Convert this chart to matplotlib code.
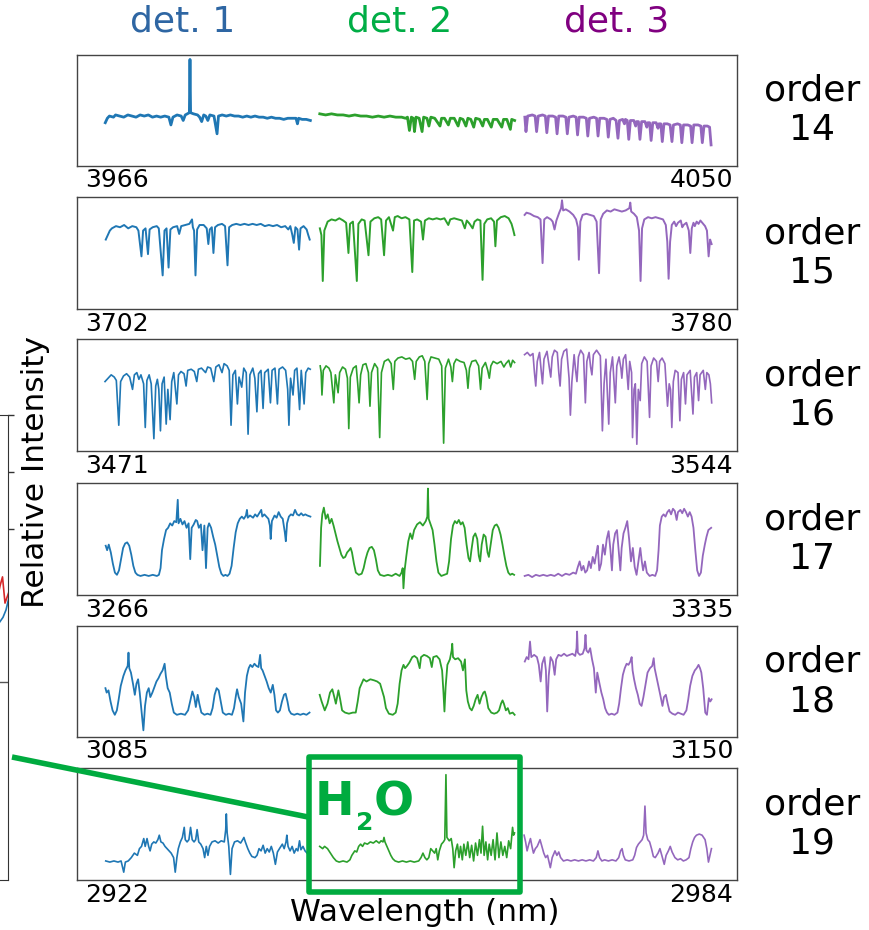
import numpy as np
import matplotlib.pyplot as plt
from matplotlib.patches import Rectangle
from matplotlib.lines import Line2D

plt.rcParams['font.family'] = ['DejaVu Sans']

W, H = 869, 930

# echelle orders and the wavelength range shown in each panel
orders = [14, 15, 16, 17, 18, 19]
wl_left = [3966, 3702, 3471, 3266, 3085, 2922]
wl_right = [4050, 3780, 3544, 3335, 3150, 2984]

# wavelength coverage of each detector per order
det1_wl = [(3969.6, 3995.7), (3705.4, 3729.5), (3474.1, 3496.8), (3269.0, 3290.4), (3087.8, 3107.9), (2924.7, 2943.9)]
det2_wl = [(3996.9, 4021.7), (3730.7, 3753.7), (3497.9, 3519.4), (3291.4, 3311.7), (3108.9, 3128.1), (2944.8, 2963.1)]
det3_wl = [(4023.0, 4046.7), (3754.9, 3777.0), (3520.5, 3541.2), (3312.8, 3332.3), (3129.1, 3147.5), (2964.0, 2981.6)]

# spectra: (position along detector in %, relative intensity in %)
o14_d1 = [(0,39),(1,43),(2,45),(4,44),(5,46),(7,45),(9,44),(11,46),(13,45),(15,44),(17,46),(19,45),(21,46),(23,44),(25,45),(27,44),(29,45),(31,44),(32,37),(33,44),(35,46),(37,45),(38,41),(39,46),(40,47),(41,48),(41.3,96),(41.6,48),(43,47),(45,46),(46,44),(47,40),(48,46),(49,45),(50,41),(51,46),(53,45),(54.5,29),(55.2,45),(57,46),(59,45),(61,46),(63,45),(65,45),(67,44),(69,45),(71,44),(73,45),(75,44),(77,44),(79,43),(81,44),(83,43),(85,43),(87,42),(89,43),(91,43),(93,43),(93.7,38),(94.3,43),(96,42),(98,42),(100,41)]
o14_d2 = [(0,47),(3,46),(6,47),(9,46),(12,46),(15,45),(18,46),(21,45),(24,45),(27,44),(30,45),(33,44),(36,45),(39,44),(42,44),(44,43),(45,44),(46,32),(47,44),(48,43),(48.6,31),(49.4,44),(51,43),(52.5,31),(53.3,44),(55,43),(56,36),(57,44),(59,43),(61.7,36),(62.5,43),(64,43),(66,37),(67,43),(69,43),(71,36),(72,43),(73.5,42),(75,36),(76,43),(77.5,42),(79,35),(80,43),(82,42),(83.6,36),(84.5,42),(86,42),(88,35),(89,42),(91,42),(93.4,35),(94.3,42),(96,42),(97.8,33),(98.5,42),(100,41)]
o14_d3 = [(0,44),(0.6,31),(1.5,45),(4,46),(5.5,45),(6.3,31),(7.2,45),(9.5,46),(11,45),(11.8,30),(12.7,45),(15,45),(16.5,44),(17.3,29),(18.2,45),(20.5,45),(22,44),(22.8,29),(23.7,44),(26,45),(27.5,44),(28.3,28),(29.2,44),(31.5,44),(33,43),(33.8,27),(34.7,43),(37,44),(38.5,43),(39.3,27),(40.2,43),(42.5,43),(44,42),(44.8,26),(45.7,42),(47.5,43),(49,41),(50,25),(50.8,41),(52.5,42),(53.5,38),(54,42),(55,41),(55.8,24),(56.7,41),(58.5,41),(59.5,36),(60,40),(61,40),(61.8,24),(62.7,40),(64.5,40),(65.5,35),(66,39),(67,39),(67.8,23),(68.7,39),(70.5,39),(71.5,34),(72,38),(73,38),(73.8,22),(74.7,38),(76.5,38),(78,37),(79,22),(79.8,37),(82,38),(83.5,37),(84.3,21),(85.2,37),(87.5,37),(89,36),(89.8,21),(90.7,37),(93,37),(94.5,36),(95.3,21),(96.2,36),(98,36),(99.2,35),(100,19)]

o15_d1 = [(0,62),(1,66),(2,70),(3,72),(5,74),(7,73),(9,75),(11,72),(13,74),(15,73),(16,70),(17.5,47),(18.3,70),(19.5,72),(20.7,49),(21.5,71),(23,73),(25,74),(26,72),(27.9,30),(28.8,70),(29.8,72),(30.8,37),(31.7,71),(33,73),(35,74),(36,67),(37,74),(39,75),(41,76),(42.3,80),(42.7,73),(43.3,70),(44,30),(44.8,71),(46,75),(48,75),(49.5,72),(50.3,58),(51,71),(52,73),(52.8,50),(53.6,73),(55,75),(57,76),(58.5,74),(59.7,39),(60.5,73),(62,75),(64,76),(66,75),(68,76),(70,75),(72,76),(74,75),(76,76),(78,74),(80,75),(82,74),(84,75),(86,73),(88,74),(89.5,71),(90.5,74),(91.5,66),(92.2,59),(93,73),(94,71),(94.8,53),(95.5,72),(97,74),(98.5,71),(99.3,66),(100,62)]
o15_d2 = [(0,72),(0.8,66),(1.5,25),(2.3,70),(4,78),(6,80),(8,79),(10,81),(12,79),(13.5,77),(14.7,50),(15.5,76),(17,78),(19,25),(19.8,76),(21.5,80),(23,79),(25,48),(26,78),(28,81),(30,82),(31.5,80),(33,48),(34,79),(35.5,82),(37.6,70),(38.5,82),(40,83),(42,81),(44,82),(46,80),(47.5,33),(48.4,79),(50,80),(52,78),(53,62),(54,79),(56,81),(58,80),(60,81),(62,80),(64,81),(66,75),(67,80),(69,81),(71,80),(73,79),(74.5,72),(75.5,79),(77,76),(78.5,72),(79.5,78),(81,80),(82.5,79),(83.6,26),(84.5,76),(86,80),(88,81),(89.5,78),(90.2,56),(91,79),(93,82),(95,83),(97,81),(98.5,76),(99.3,71),(100,66)]
o15_d3 = [(0,84),(1,86),(3,85),(5,83),(7,82),(8.5,80),(9.6,41),(10.5,80),(12,82),(14,80),(15,78),(16,71),(17,79),(18.5,86),(19.5,90),(20,97),(20.6,88),(22,89),(24,87),(26,84),(27.5,80),(28.5,73),(29,44),(29.8,78),(31,84),(33,85),(35,84),(37,83),(38.5,78),(39.8,32),(40.7,80),(42,85),(44,88),(46,87),(48,89),(50,88),(52,87),(54,88),(56,90),(56.5,95),(57,87),(58.5,85),(60,82),(61.2,70),(62,25),(62.8,72),(64,80),(66,82),(68,81),(70,82),(72,81),(74,80),(75.5,75),(76.3,60),(77,27),(77.8,60),(78.7,75),(80,78),(81,74),(82,77),(83.5,79),(84.3,73),(85,75),(86.5,77),(87.8,70),(88.6,50),(89.4,72),(90.3,77),(91,74),(92,78),(93,76),(94,79),(95,77),(96.5,74),(97.5,70),(98.4,47),(99.2,62),(100,58)]

o16_d1 = [(0,62),(1.5,65),(3,68),(4.5,66),(5.5,63),(6.7,23),(7.6,62),(9,67),(10.5,69),(12,66),(13.4,55),(14.3,68),(15.5,70),(16.5,64),(17.5,68),(18.8,60),(19.6,21),(20.4,63),(21.5,68),(22.5,60),(23.8,11),(24.7,58),(25.5,64),(26.2,55),(27,18),(27.8,60),(28.8,66),(29.8,24),(30.6,55),(31.7,28),(32.5,62),(33.5,70),(35,42),(35.8,68),(37,71),(38.5,69),(39.5,58),(40.3,72),(42,73),(43.5,71),(44.7,62),(45.5,73),(47,74),(49,70),(50,75),(51.5,74),(53,62),(54,75),(55.5,77),(57,70),(58,78),(59.5,76),(60.5,72),(61.4,23),(62.3,68),(63.5,72),(64.5,42),(65.3,66),(66.6,57),(67.6,74),(68.8,70),(69.7,15),(70.6,68),(72,74),(73,65),(74,35),(74.8,69),(76,72),(77,38),(77.8,70),(79.5,73),(80.6,43),(81.4,72),(82.8,74),(84,42),(84.8,73),(86.5,75),(88,72),(89,55),(89.6,23),(90.4,65),(91.6,50),(92.4,72),(93.5,74),(94.8,37),(95.6,72),(97,42),(97.8,70),(99,74),(100,73)]
o16_d2 = [(0,76),(0.5,70),(0.9,50),(1.6,72),(3,76),(4.5,74),(5.5,70),(7,43),(7.8,68),(8.5,60),(9.2,52),(10,70),(11.5,75),(13,73),(14,65),(14.7,20),(15.5,66),(17,74),(18.5,76),(19.3,60),(20,43),(20.8,68),(22,77),(23.5,78),(24.8,70),(25.6,40),(26.4,70),(28,78),(29.5,74),(30.6,12),(31.5,70),(33,80),(35,82),(36.5,78),(37.6,55),(38.4,80),(40,83),(42,84),(44,82),(46,83),(47.5,80),(48.6,64),(49.4,80),(51,84),(52.5,85),(53.8,80),(55,46),(55.8,78),(57,84),(59,83),(61,82),(62.5,76),(63.5,7),(64.4,74),(66,82),(67.2,75),(68,62),(68.8,78),(70,82),(72,80),(74,79),(75.2,72),(76,56),(76.8,74),(78,80),(80,81),(81.5,76),(82.5,55),(83.3,74),(85,79),(86.2,72),(87,65),(87.8,76),(89,80),(91,78),(93,80),(94.5,75),(95.5,78),(97,81),(98,75),(99,81),(100,79)]
o16_d3 = [(0,86),(1.5,88),(3,85),(4.5,87),(5.3,70),(6,58),(6.8,80),(8,88),(9,70),(9.6,60),(10.4,82),(12,89),(13.2,75),(14,66),(14.8,84),(16,90),(17.5,88),(18.3,70),(19,58),(19.8,82),(21,89),(22.5,91),(23.8,65),(24.5,32),(25.3,62),(26.5,86),(27.3,72),(28,62),(28.8,84),(30,90),(31.5,86),(32.5,43),(33.3,80),(34.5,88),(35.3,75),(36,68),(36.8,86),(38.5,90),(40.5,85),(41.6,18),(42.5,60),(43.5,82),(44.3,50),(45,24),(45.8,70),(47,84),(48.5,43),(49.3,76),(50.5,84),(51.5,74),(52,65),(52.8,82),(54,86),(55.4,55),(56.2,80),(57.2,70),(57.7,12),(58.5,55),(59.2,60),(60,6),(60.8,55),(61.8,45),(62.6,78),(64,84),(65.5,80),(66.8,30),(67.6,76),(69,83),(70.5,80),(71.4,62),(72.2,80),(73.5,83),(75,78),(76.4,40),(77.3,60),(78,55),(78.7,21),(79.5,62),(80.5,72),(82,70),(83,27),(83.8,64),(85,70),(86,42),(86.8,68),(88.5,72),(90,33),(90.8,66),(92,70),(93,45),(93.8,68),(95.5,72),(96.6,55),(97.4,70),(98.5,68),(99.3,60),(100,43)]

o17_d1 = [(0,44),(0.7,40),(1.5,45),(2.5,38),(3.5,28),(4.5,20),(5.5,18),(6.5,22),(7.5,32),(8.5,42),(9.5,46),(10.5,47),(11.5,44),(12.5,36),(13.5,26),(14.5,20),(15.5,18),(17,17),(19,18),(21,17),(23,18),(25,17),(26,18),(26.8,24),(27.5,40),(28.5,50),(29.5,58),(30.5,60),(31.5,64),(32.5,62),(33.5,66),(34.5,65),(35.2,85),(35.6,64),(36.5,68),(37.5,63),(38.5,66),(39.5,60),(40.5,64),(41.3,32),(42,60),(43,63),(44,67),(44.7,66),(45.5,60),(46.5,63),(47.3,40),(48.2,62),(49,24),(49.8,60),(50.5,64),(51.5,60),(52.5,52),(53.5,45),(54.5,35),(55.5,25),(56.5,19),(57.5,17),(58.5,18),(59.5,17),(60.5,19),(61.5,26),(62.5,42),(63.5,56),(64.5,64),(65.5,68),(66.5,70),(67.5,68),(68.5,71),(69,76),(69.4,69),(70.5,71),(72,69),(73,72),(74,70),(75,73),(76,76),(76.5,70),(77.5,72),(78.5,70),(79.5,68),(80.2,62),(80.6,50),(81.2,66),(82.5,71),(83.5,69),(84.5,74),(85.5,70),(86.5,68),(87.5,56),(88,48),(88.6,64),(89.5,70),(90.5,72),(91.5,71),(92.5,76),(93.5,72),(94.5,71),(95.5,73),(96.5,71),(97.5,72),(98.5,71),(100,70)]
o17_d2 = [(0,26),(0.6,60),(1.2,72),(2,78),(3,68),(4,72),(5,64),(6,68),(7,62),(8,55),(9,48),(10,42),(11,36),(12,33),(13,34),(14,38),(15,40),(15.8,42),(16.5,38),(17.5,28),(18.5,20),(20,18),(21.5,19),(22.5,24),(23.5,32),(24.5,38),(25.5,42),(26.7,43),(27.8,40),(28.8,32),(29.8,22),(31,18),(33,17),(35,18),(37,17),(39,19),(41,17),(42,20),(42.6,24),(43,6),(43.6,22),(44.5,35),(45.5,48),(46.5,55),(47.5,50),(48.5,58),(50,63),(51.5,65),(53,62),(54.5,66),(55.3,70),(55.6,95),(56,68),(57,63),(58,58),(59,45),(60,30),(61,20),(62.5,17),(64,18),(65.5,19),(66.5,30),(67.5,50),(68.5,62),(69.5,66),(70.5,64),(71.5,67),(72.5,63),(73.5,65),(74.5,60),(75.5,45),(76.5,33),(77.3,30),(78,40),(79,52),(80,55),(81,50),(81.8,35),(82.5,30),(83.3,45),(84.3,54),(85.3,52),(86.3,38),(87,34),(88,46),(89,58),(90,62),(91,63),(92,60),(93,54),(94,45),(95,35),(96,26),(97,20),(98,18),(99,19),(100,18)]
o17_d3 = [(0,17),(2,18),(4,16),(6,18),(8,17),(10,18),(12,17),(14,18),(16,17),(18,19),(20,17),(22,19),(24,18),(26,20),(27.5,19),(28.5,25),(29.5,30),(30.5,22),(31.5,26),(32.5,20),(33.5,22),(34.5,30),(35.5,24),(36.5,34),(37.5,28),(38.5,38),(39.2,44),(40,22),(41,28),(42,45),(43,36),(44,50),(45,57),(46,40),(46.8,22),(47.5,45),(48.5,55),(49.5,58),(50.5,38),(51.3,22),(52,42),(53,55),(54,60),(55,66),(56,50),(57,30),(58,42),(59,25),(60,18),(61,30),(62,42),(62.8,30),(63.5,22),(64.5,30),(65.5,20),(67,17),(68.5,18),(70,17),(71,22),(71.8,40),(72.5,62),(73.5,70),(74.5,72),(75.5,70),(76.5,74),(77.5,76),(78.5,72),(79.5,77),(80.5,75),(81.5,67),(82.2,74),(83.5,76),(84.5,73),(85.5,77),(86.5,74),(87.5,70),(88.5,74),(89.5,70),(90.5,60),(91.5,40),(92.5,22),(93.5,17),(94.5,20),(95.5,35),(96.6,45),(97.5,52),(98.5,58),(100,60)]

o18_d1 = [(0,44),(0.6,40),(1.5,42),(2.5,32),(3.5,24),(4.6,20),(5.6,24),(6.5,34),(7.5,46),(8.8,55),(9.8,60),(10.9,64),(11.3,76),(11.7,62),(12.5,58),(13.5,48),(14.4,38),(15.2,48),(16,52),(16.8,40),(17.6,25),(18.6,6),(19.4,28),(20.3,40),(21.2,44),(22,36),(23,40),(24,45),(25,50),(26,53),(27,57),(28,60),(29,66),(29.6,55),(30.5,44),(31.5,40),(32.5,30),(33.5,22),(35,20),(37,21),(39,20),(40.5,24),(41.5,32),(42.6,41),(43.5,36),(44.3,27),(45.2,38),(46,30),(47,22),(48.5,20),(50,21),(51.5,20),(52.5,26),(53.5,38),(54.5,44),(55.5,42),(56.5,32),(57.5,22),(59,20),(60.5,21),(62,20),(63,26),(64,38),(64.5,43),(65.3,36),(66.5,30),(67.6,14),(68.4,40),(69.3,55),(70.2,62),(71,65),(72,63),(73,66),(74,64),(75,63),(75.8,74),(76.3,62),(77,60),(78,55),(79,50),(80,44),(81,40),(82,47),(82.8,38),(83.6,24),(84.5,22),(85.5,24),(86.5,32),(87.5,38),(88.3,39),(89.2,32),(90,24),(91,21),(92.5,20),(94,21),(95.5,20),(97,21),(98.5,20),(100,22)]
o18_d2 = [(0,38),(1,32),(2.6,24),(4,30),(5.3,40),(6.5,43),(7.5,36),(8.3,30),(9.6,42),(10.5,34),(11.5,24),(13,22),(15,21),(17,22),(18.5,22),(19.5,32),(20.5,44),(21.5,48),(22.5,52),(24,50),(26,52),(28,51),(29.5,50),(31,48),(32,42),(33,36),(34,26),(35.5,21),(37.5,20),(39,22),(40,30),(41,48),(42,60),(43,65),(43.8,62),(44.8,64),(46,67),(47.5,72),(48.6,73),(50,71),(51.3,62),(52,72),(53.5,74),(55,73),(56.5,71),(57.5,63),(58.3,72),(60,73),(61.5,70),(62.8,60),(63.5,40),(64,23),(64.6,45),(65.5,65),(66.8,70),(67.7,78),(68,84),(68.4,72),(69.5,70),(71,71),(72.5,68),(73.5,60),(74.5,70),(75.2,42),(76,32),(77,26),(78,24),(79,28),(80,34),(81,38),(82,30),(83,36),(84,40),(84.7,41),(85.5,36),(86.5,26),(88,22),(89.5,21),(91,22),(92,24),(93,30),(93.8,33),(94.5,30),(95.5,24),(96.5,26),(97.5,21),(99,22),(100,20)]
o18_d3 = [(0,68),(1,72),(2,70),(2.8,86),(3.5,72),(5,74),(6.5,72),(7.5,65),(8.5,50),(9.3,66),(10.5,72),(11.3,60),(12,23),(12.8,55),(13.8,72),(15,68),(16,56),(16.8,70),(18,74),(19.5,73),(21,75),(22.5,73),(24,74),(25.5,75),(27,73),(27.7,80),(28,95),(28.4,76),(29.5,74),(31,75),(32,80),(32.5,92),(33,78),(34,76),(35,80),(36,70),(37,62),(38,40),(38.8,58),(40,48),(41,40),(42,34),(43,26),(44,22),(45,20),(46.5,21),(48,20),(49.6,22),(50.5,30),(51.5,44),(52.5,56),(53.5,62),(54.5,66),(55.5,65),(56.5,68),(57.2,72),(57.7,60),(58.5,52),(59.5,44),(60.5,38),(61.5,30),(62.5,28),(63.5,36),(64.5,46),(65.7,58),(67,62),(68.2,64),(69,71),(69.5,62),(70.5,54),(71.5,46),(72.5,38),(73.7,28),(74.5,36),(75.5,38),(76.5,30),(77.5,23),(79,21),(80.5,20),(82,22),(83.5,21),(85,20),(86.5,24),(87.5,34),(88.5,46),(89.7,55),(91,60),(92,62),(93,65),(93.8,62),(94.5,58),(95.5,44),(96.6,22),(97.5,20),(98.5,35),(99.3,32),(100,34)]

o19_d1 = [(0,17),(2,16),(4,17),(6,16),(7.5,17),(8.8,7),(9.6,16),(11,17),(12.5,20),(14,24),(15.5,22),(16.5,28),(17.5,30),(18.6,37),(19.3,30),(20.2,37),(21,30),(21.7,26),(22.5,32),(23.5,34),(24.5,33),(25.5,36),(26.2,40),(27,34),(28,33),(29,30),(30,28),(31,26),(32,24),(33.2,20),(34,7),(34.8,20),(35.5,28),(36.5,34),(37.5,38),(38.4,47),(38.9,36),(39.8,34),(40.7,36),(41.5,47),(42.3,36),(43.2,34),(44,36),(44.7,45),(45.5,34),(46.5,32),(47.6,28),(48.4,20),(49.2,30),(50,22),(50.8,30),(52,34),(53.5,35),(55,33),(56.5,35),(58,34),(58.7,45),(59,59),(59.4,42),(60.2,30),(61,5),(61.8,28),(63,34),(64.5,35),(66,33),(67,36),(67.6,38),(68.3,34),(69.5,28),(70.5,24),(71.5,21),(73,20),(74,22),(75,28),(76,26),(77,31),(78,24),(79,28),(80,25),(81,30),(82,24),(83,14),(84,25),(85,28),(86.4,32),(87.3,28),(88.2,34),(88.6,40),(89.2,30),(90.2,26),(91.2,30),(92.2,24),(93.2,28),(94,26),(94.8,35),(95.5,27),(96.5,30),(97.5,26),(98.5,24),(100,22)]
o19_d2 = [(0,30),(1.5,28),(2.5,30),(4,28),(5.5,24),(7,20),(8.5,17),(10,16),(12,17),(14,16),(15.5,18),(16.5,22),(18,26),(19,25),(20,30),(21,32),(22,30),(23,33),(24.5,32),(26,34),(27.5,33),(29,35),(30.5,33),(31.5,35),(32.5,34),(33,38),(33.5,34),(34.5,30),(35.5,26),(36.5,22),(37.5,19),(38.7,17),(40.5,16),(42.5,17),(44.5,16),(46.5,17),(48.5,16),(50.8,17),(52,20),(53,24),(54,20),(55,18),(56,20),(57,28),(58,26),(59,24),(59.8,28),(60.6,18),(61.4,26),(62.5,32),(63.5,34),(64.2,36),(64.8,94),(65.3,38),(66.5,35),(67.5,37),(68.3,28),(69,11),(69.8,26),(70.7,32),(71.5,20),(72.3,30),(73.2,18),(74,32),(75,22),(76,34),(77,20),(78,31),(79,17),(80,33),(81,22),(82,36),(82.8,24),(83.6,48),(84.4,22),(85.3,34),(86.2,18),(87,32),(88,22),(89,36),(90,18),(91,42),(92,20),(93,34),(94,22),(95,30),(96,20),(97,35),(98,28),(99,47),(99.5,40),(100,42)]
o19_d3 = [(0,40),(0.8,34),(1.6,26),(2.5,32),(3.4,37),(4.2,30),(5,24),(6,28),(7,30),(8.5,36),(9.5,30),(10.5,24),(11.5,20),(12.5,22),(14,11),(15,20),(16.5,26),(17.5,22),(18.5,25),(19.5,20),(21,17),(23,18),(25,17),(27,18),(29,17),(31,18),(33,17),(35,18),(37,17),(38.5,20),(39.4,26),(40.3,20),(41.5,17),(43,18),(45,17),(47,18),(49,17),(50.5,20),(51.5,26),(52.3,28),(53,22),(54,18),(56,17),(58,18),(59,22),(60,29),(61,32),(62,34),(63,36),(63.8,40),(64.5,66),(65.1,42),(66,36),(67,34),(68,28),(69,21),(70,20),(71.5,24),(72.5,28),(73.5,22),(74.8,14),(75.8,22),(77,26),(78,30),(79,25),(80.5,20),(82,18),(83.5,19),(85,17),(86.5,18),(88,20),(89,28),(90,34),(91,38),(92,40),(93.5,41),(95,40),(96.6,36),(97.5,28),(98.4,16),(99.2,22),(100,28)]

# fragment of the neighbouring panel (cut off at the left edge)
left_red_x = [-6, 0, 2.5, 5, 9]
left_red_y = [0.50, 0.60, 0.632, 0.54, 0.58]
left_blue_x = [-6, -1, 3, 6, 9]
left_blue_y = [0.44, 0.47, 0.49, 0.516, 0.56]
left_hline_y = 0.263
left_ticks = [0.8, 1.0, 1.2]

spectra = [
    [o14_d1, o14_d2, o14_d3],
    [o15_d1, o15_d2, o15_d3],
    [o16_d1, o16_d2, o16_d3],
    [o17_d1, o17_d2, o17_d3],
    [o18_d1, o18_d2, o18_d3],
    [o19_d1, o19_d2, o19_d3],
]
det_wl = [det1_wl, det2_wl, det3_wl]
det_names = ['det. 1', 'det. 2', 'det. 3']
line_colors = ['#1f77b4', '#2ca02c', '#9467bd']
title_colors = ['#2e66a3', '#00ad45', '#800080']
box_green = '#00ab3f'
# noisier orders look thicker in the original
line_widths = [2.0, 1.4, 1.2, 1.3, 1.3, 1.2]


def px_box(l, t, r, b):
    return [l / W, 1 - b / H, (r - l) / W, (b - t) / H]


fig = plt.figure(figsize=(W / 100, H / 100), dpi=100)

tops = [55, 197, 339, 483, 626, 768]
bottoms = [166, 309, 451, 595, 737, 880]

for i, order in enumerate(orders):
    ax = fig.add_axes(px_box(77, tops[i], 737, bottoms[i]))
    for j in range(3):
        pts = np.array(spectra[i][j], dtype=float)
        lo, hi = det_wl[j][i]
        wl = lo + pts[:, 0] / 100 * (hi - lo)
        ax.plot(wl, pts[:, 1], color=line_colors[j], lw=line_widths[i], solid_joinstyle='round')
    ax.set_xlim(wl_left[i], wl_right[i])
    ax.set_ylim(0, 100)
    ax.set_xticks([])
    ax.set_yticks([])
    for sp in ax.spines.values():
        sp.set_color('#444444')
        sp.set_linewidth(1.0)
    ax.text(0.012, -0.13, str(wl_left[i]), transform=ax.transAxes, ha='left', va='center', fontsize=18)
    ax.text(0.994, -0.13, str(wl_right[i]), transform=ax.transAxes, ha='right', va='center', fontsize=18)
    yc = (tops[i] + bottoms[i]) / 2
    fig.text(812 / W, 1 - yc / H, f'order\n{order}', ha='center', va='center', fontsize=26)

# detector titles
for j, xc in enumerate([183, 400, 617]):
    fig.text(xc / W, 1 - 22 / H, det_names[j], color=title_colors[j], ha='center', va='center', fontsize=26)

fig.text(425 / W, 1 - 912 / H, 'Wavelength (nm)', ha='center', va='center', fontsize=22.5)
fig.text(36 / W, 1 - 472 / H, 'Relative Intensity', ha='center', va='center', rotation=90, fontsize=22.5)

# cropped neighbouring plot on the far left
axl = fig.add_axes(px_box(-300, 415, 8, 880))
axl.plot(left_red_x, left_red_y, color='#d62728', lw=1.2)
axl.plot(left_blue_x, left_blue_y, color='#1f77b4', lw=1.2)
axl.axhline(left_hline_y, color='#555555', lw=1.0)
axl.set_xlim(-300, 8)
axl.set_ylim(1.2 - 465 / 57 * 0.2, 1.2)
axl.set_xticks([])
axl.yaxis.tick_right()
axl.set_yticks(left_ticks)
axl.tick_params(axis='y', length=4, width=1, labelright=False, color='#333333')
axl.spines['left'].set_visible(False)
for sp in ['right', 'top', 'bottom']:
    axl.spines[sp].set_color('#333333')

# H2O highlight box and connector
fig.add_artist(Line2D([12 / W, 308 / W], [1 - 757 / H, 1 - 817 / H], color=box_green, lw=4.0,
                      transform=fig.transFigure, solid_capstyle='butt'))
fig.add_artist(Rectangle((308.5 / W, 1 - 892 / H), 211 / W, 135.5 / H, fill=False, edgecolor=box_green,
                         lw=4.0, joinstyle='round', transform=fig.transFigure))
fig.text(315 / W, 1 - 815 / H, 'H', color=box_green, fontweight='bold', ha='left', va='baseline', fontsize=34)
fig.text(356 / W, 1 - 830 / H, '2', color=box_green, fontweight='bold', ha='left', va='baseline', fontsize=18)
fig.text(374 / W, 1 - 815 / H, 'O', color=box_green, fontweight='bold', ha='left', va='baseline', fontsize=34)

fig.savefig('out.png', dpi=100)
